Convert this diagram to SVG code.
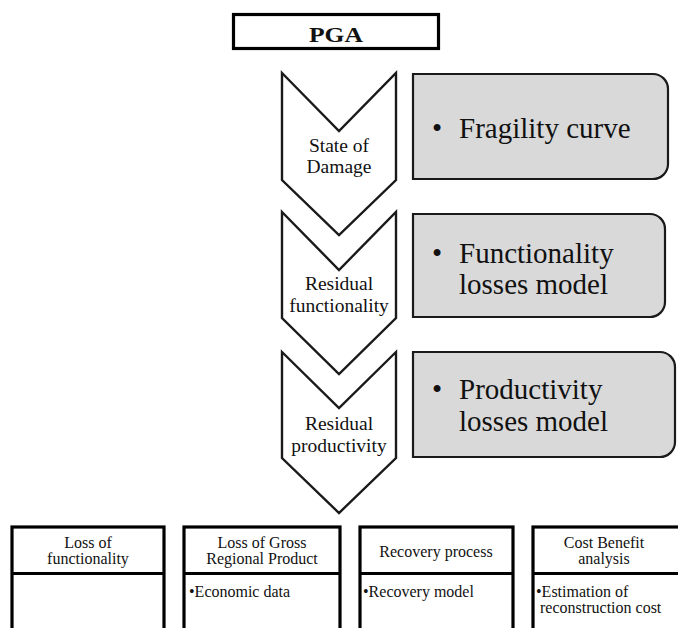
<svg xmlns="http://www.w3.org/2000/svg" width="678" height="628" viewBox="0 0 678 628">
<style>
.chev{fill:#fff;stroke:#1a1a1a;stroke-width:2.4;stroke-linejoin:miter}
.grey{fill:#d9d9d9;stroke:#1a1a1a;stroke-width:2.2}
.bx{fill:#fff;stroke:#000;stroke-width:3.2}
.t{font-family:"Liberation Serif","Times New Roman",serif;fill:#111}
.ct{font-size:19.5px;text-anchor:middle}
.gt{font-size:29px}
.ht{font-size:16px;text-anchor:middle}
.bt{font-size:16px}
</style>
<rect width="678" height="628" fill="#fff"/>
<g id="pga">
<rect x="233.5" y="14.5" width="205" height="34" fill="#fff" stroke="#000" stroke-width="3.2"/>
<text class="t" x="336" y="42" font-size="22" font-weight="bold" text-anchor="middle" textLength="54" lengthAdjust="spacingAndGlyphs">PGA</text>
</g>
<g id="connectors"></g>
<g id="chevron1">
<path class="chev" d="M282,73 L339,131 L396,73 V180 L339,235 L282,180 Z"/>
<text class="t ct" x="339" y="152">State of</text>
<text class="t ct" x="339" y="173">Damage</text>
</g>
<g id="chevron2">
<path class="chev" d="M282,212 L339,270 L396,212 V318 L339,374 L282,318 Z"/>
<text class="t ct" x="339" y="290">Residual</text>
<text class="t ct" x="339" y="312">functionality</text>
</g>
<g id="chevron3">
<path class="chev" d="M282,352 L339,408 L396,352 V458 L339,513 L282,458 Z"/>
<text class="t ct" x="339" y="430">Residual</text>
<text class="t ct" x="339" y="452">productivity</text>
</g>
<g id="fragility">
<path class="grey" d="M413,74 H653 A15,15 0 0 1 668,89 V164 A15,15 0 0 1 653,179 H413 Z"/>
<text class="t gt" x="432" y="138">•</text>
<text class="t gt" x="459" y="138">Fragility curve</text>
</g>
<g id="functionality">
<path class="grey" d="M413,214 H650 A15,15 0 0 1 665,229 V302 A15,15 0 0 1 650,317 H413 Z"/>
<text class="t gt" x="432" y="263">•</text>
<text class="t gt" x="459" y="263">Functionality</text>
<text class="t gt" x="459" y="294">losses model</text>
</g>
<g id="productivity">
<path class="grey" d="M413,352 H660 A15,15 0 0 1 675,367 V442 A15,15 0 0 1 660,457 H413 Z"/>
<text class="t gt" x="432" y="399">•</text>
<text class="t gt" x="459" y="399">Productivity</text>
<text class="t gt" x="459" y="431">losses model</text>
</g>
<g id="lossfunc">
<rect class="bx" x="12" y="527" width="152" height="120"/>
<line x1="12" y1="573.5" x2="164" y2="573.5" stroke="#000" stroke-width="3.2"/>
<text class="t ht" x="88" y="548">Loss of</text>
<text class="t ht" x="88" y="564">functionality</text>
</g>
<g id="lossgrp">
<rect class="bx" x="184" y="527" width="156" height="120"/>
<line x1="184" y1="573.5" x2="340" y2="573.5" stroke="#000" stroke-width="3.2"/>
<text class="t ht" x="262" y="548">Loss of Gross</text>
<text class="t ht" x="262" y="564">Regional Product</text>
<text class="t bt" x="189" y="597">•Economic data</text>
</g>
<g id="recovery">
<rect class="bx" x="360" y="527" width="153" height="120"/>
<line x1="360" y1="573.5" x2="513" y2="573.5" stroke="#000" stroke-width="3.2"/>
<text class="t ht" x="436" y="557">Recovery process</text>
<text class="t bt" x="363" y="597">•Recovery model</text>
</g>
<g id="costbenefit">
<rect class="bx" x="533" y="527" width="160" height="120"/>
<line x1="533" y1="573.5" x2="693" y2="573.5" stroke="#000" stroke-width="3.2"/>
<text class="t ht" x="604" y="548">Cost Benefit</text>
<text class="t ht" x="604" y="564">analysis</text>
<text class="t bt" x="536" y="597">•Estimation of</text>
<text class="t bt" x="540" y="613">reconstruction cost</text>
</g>
</svg>
